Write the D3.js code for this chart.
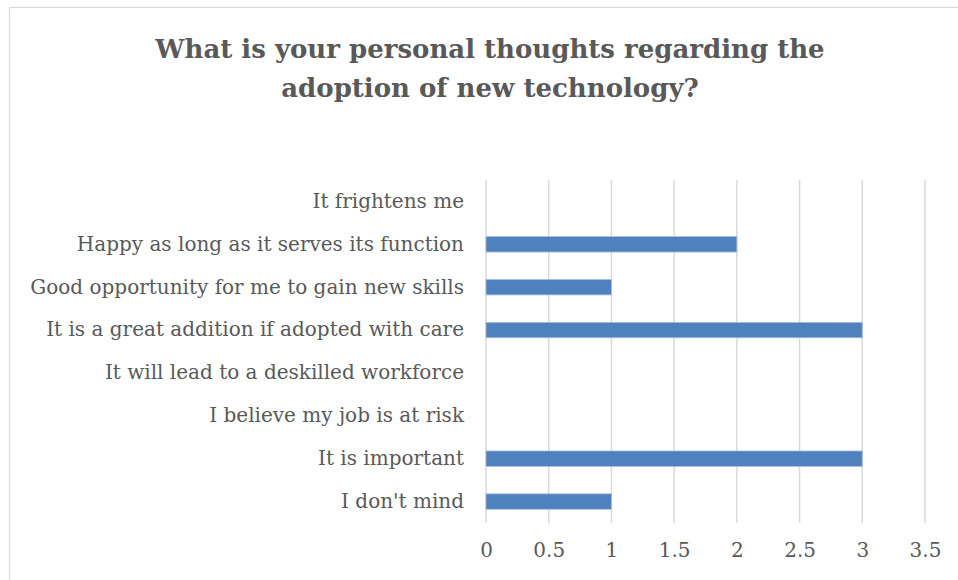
<!DOCTYPE html>
<html>
<head>
<meta charset="utf-8">
<script src="https://cdn.jsdelivr.net/npm/d3@7"></script>
<style>
  html, body { margin: 0; padding: 0; background: #fff; }
  svg { display: block; }
</style>
</head>
<body>
<svg id="chart" width="958" height="580"></svg>
<script>
// Survey responses, listed top to bottom as shown
const categories = [
  "It frightens me",
  "Happy as long as it serves its function",
  "Good opportunity for me to gain new skills",
  "It is a great addition if adopted with care",
  "It will lead to a deskilled workforce",
  "I believe my job is at risk",
  "It is important",
  "I don't mind"
];
const counts = [0, 2, 1, 3, 0, 0, 3, 1];
const xTicks = [0, 0.5, 1, 1.5, 2, 2.5, 3, 3.5];
const titleLines = [
  "What is your personal thoughts regarding the",
  "adoption of new technology?"
];

const svg = d3.select("#chart");
const serif = "'DejaVu Serif', 'Liberation Serif', serif";
const textColor = "#595959";

// chart frame
svg.append("rect")
  .attr("x", 9.5).attr("y", 7.5)
  .attr("width", 1000).attr("height", 600)
  .attr("fill", "#fff")
  .attr("stroke", "#d9d9d9").attr("stroke-width", 1.2);

// title
svg.append("g").selectAll("text")
  .data(titleLines)
  .join("text")
  .attr("x", 490)
  .attr("y", (d, i) => 58 + i * 39)
  .attr("text-anchor", "middle")
  .attr("font-family", serif)
  .attr("font-weight", "bold")
  .attr("font-size", 26)
  .attr("fill", textColor)
  .text(d => d);

const x = d3.scaleLinear().domain([0, 3.5]).range([486, 925]);
const y = d3.scaleBand().domain(categories).range([180, 523]).paddingInner(0.64).paddingOuter(0.32);

// vertical gridlines
svg.append("g").selectAll("line")
  .data(xTicks)
  .join("line")
  .attr("x1", d => x(d)).attr("x2", d => x(d))
  .attr("y1", 180).attr("y2", 523)
  .attr("stroke", "#d9d9d9").attr("stroke-width", 1.5);

// bars
svg.append("g").selectAll("rect")
  .data(categories.map((c, i) => ({ c, v: counts[i] })).filter(d => d.v > 0))
  .join("rect")
  .attr("x", x(0))
  .attr("y", d => y(d.c))
  .attr("width", d => x(d.v) - x(0))
  .attr("height", y.bandwidth())
  .attr("fill", "#4f81bd")
  .attr("stroke", "#a7bfde").attr("stroke-width", 0.8);

// category labels
const yAxis = d3.axisLeft(y).tickSize(0).tickPadding(22);
const yg = svg.append("g").attr("transform", `translate(${x(0)},0)`).call(yAxis);
yg.select(".domain").remove();
yg.selectAll("text")
  .attr("font-family", serif)
  .attr("font-size", 20)
  .attr("fill", textColor);

// value axis labels
const xAxis = d3.axisBottom(x).tickValues(xTicks).tickSize(0).tickPadding(20).tickFormat(d3.format("~g"));
const xg = svg.append("g").attr("transform", "translate(0,523)").call(xAxis);
xg.select(".domain").remove();
xg.selectAll("text")
  .attr("font-family", serif)
  .attr("font-size", 20)
  .attr("fill", textColor);
</script>
</body>
</html>
